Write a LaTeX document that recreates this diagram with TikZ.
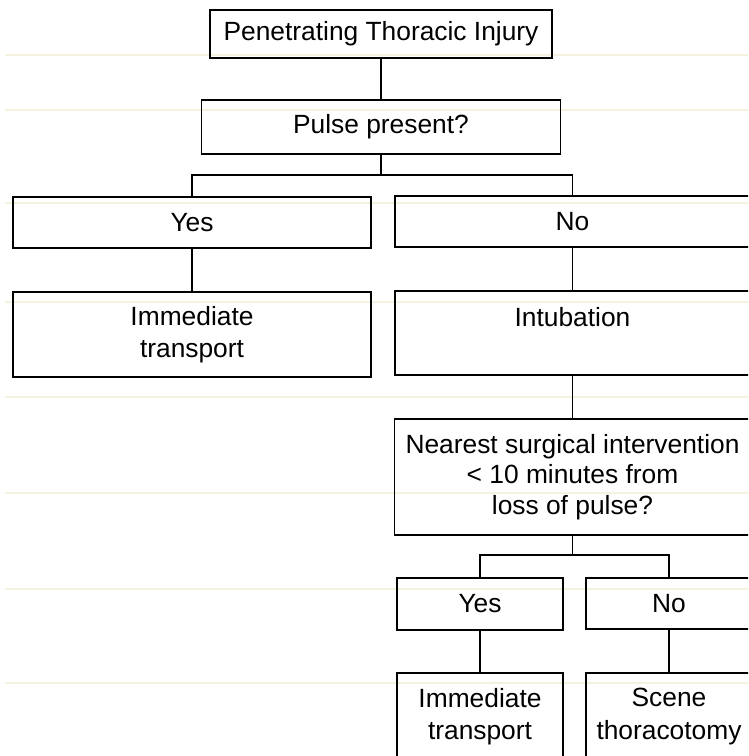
\documentclass[tikz,border=0pt]{standalone}
\usepackage{fontspec}
\setmainfont{Liberation Sans}
\definecolor{paperline}{RGB}{244,241,222}
\begin{document}
\begin{tikzpicture}[x=0.02cm, y=-0.02cm,
    box/.style={draw, align=center, inner sep=0pt, line width=0.9pt,
      font=\fontsize{15}{18.5}\selectfont},
    link/.style={line width=0.7pt}]
    \path[use as bounding box, clip] (0,0) rectangle (748,756);
    \fill[white] (0,0) rectangle (748,756);
    % faint ruling of the scanned page
    \foreach \y in {55,110,203,302,397,493,589,683}
        \draw[paperline, line width=0.6pt] (5,\y) -- (748,\y);
    \node[box, minimum width=6.84cm, minimum height=0.96cm] (injury) at (381, 34) {Penetrating Thoracic Injury};
    \node[box, minimum width=7.18cm, minimum height=1.08cm] (pulse) at (381, 127) {Pulse present?};
    \node[box, minimum width=7.16cm, minimum height=1.02cm] (pulse-yes) at (192, 222.5) {Yes};
    \node[box, minimum width=7.10cm, minimum height=1.02cm] (pulse-no) at (572.5, 221.5) {No};
    \node[box, minimum width=7.16cm, minimum height=1.70cm] (transport) at (192, 334.5) {Immediate\\transport};
    \node[box, minimum width=7.10cm, minimum height=1.68cm] (intubation) at (572.5, 333) {Intubation\\~};
    \node[box, minimum width=7.12cm, minimum height=2.32cm, font=\fontsize{15}{17.5}\selectfont] (surgery) at (572.5, 477) {Nearest surgical intervention\\< 10 minutes from\\loss of pulse?};
    \node[box, minimum width=3.32cm, minimum height=1.04cm] (surgery-yes) at (480, 604) {Yes};
    \node[box, minimum width=3.32cm, minimum height=1.02cm] (surgery-no) at (669, 603.5) {No};
    \node[box, minimum width=3.32cm, minimum height=1.74cm] (surgery-transport) at (480, 716.5) {Immediate\\transport};
    \node[box, minimum width=3.32cm, minimum height=1.74cm] (thoracotomy) at (669, 716.5) {Scene\\thoracotomy};
    \coordinate (split-pulse) at (381, 175);
    \coordinate (split-surgery) at (572.5, 555);
    \draw[link] (injury) -- (pulse);
    \draw[link] (pulse) -- (split-pulse);
    \draw[link] (pulse-yes) |- (split-pulse) -| (pulse-no);
    \draw[link] (pulse-yes) -- (transport);
    \draw[link] (pulse-no) -- (intubation);
    \draw[link] (intubation) -- (surgery);
    \draw[link] (surgery) -- (split-surgery);
    \draw[link] (surgery-yes) |- (split-surgery) -| (surgery-no);
    \draw[link] (surgery-yes) -- (surgery-transport);
    \draw[link] (surgery-no) -- (thoracotomy);
\end{tikzpicture}
\end{document}
